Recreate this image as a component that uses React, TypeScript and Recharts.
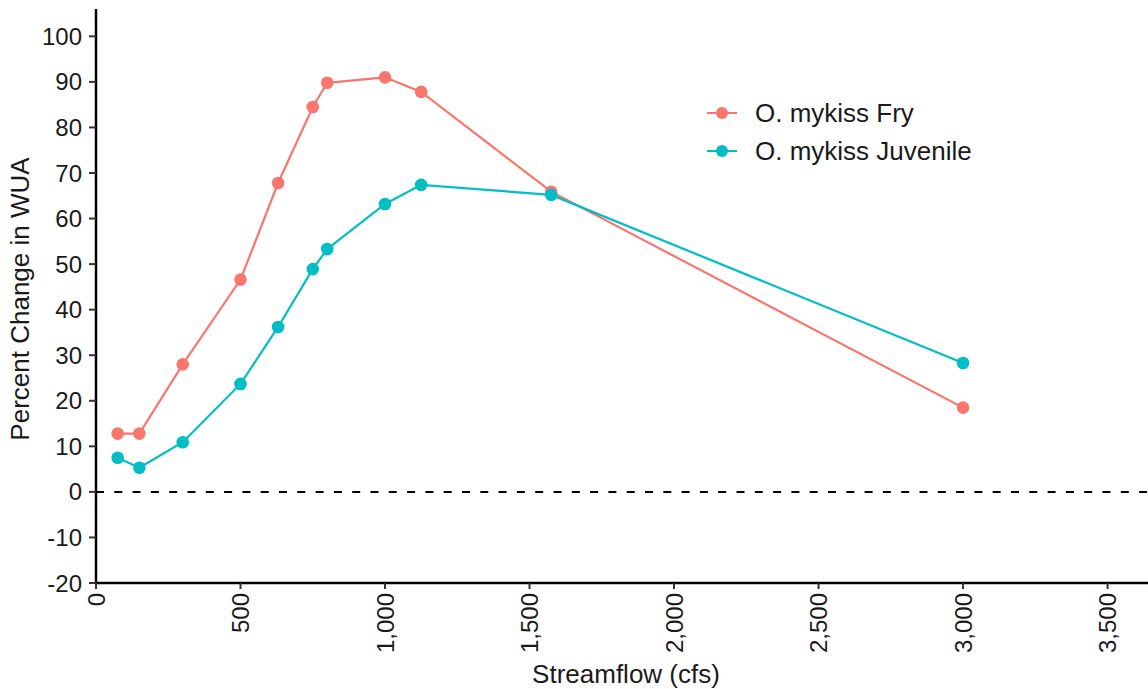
import React from 'react';
import {
  LineChart,
  Line,
  XAxis,
  YAxis,
  ReferenceLine,
  Legend
} from 'recharts';

const flows = [75, 150, 300, 500, 630, 750, 800, 1000, 1125, 1575, 3000];
const fryValues = [12.8, 12.8, 28.0, 46.6, 67.8, 84.5, 89.8, 91.0, 87.8, 65.9, 18.5];
const juvenileValues = [7.5, 5.3, 10.9, 23.7, 36.2, 48.9, 53.3, 63.2, 67.4, 65.2, 28.3];
const xTicks = [0, 500, 1000, 1500, 2000, 2500, 3000, 3500];
const yTicks = [-20, -10, 0, 10, 20, 30, 40, 50, 60, 70, 80, 90, 100];

const FRY = '#F8766D';
const JUV = '#00BFC4';
const FONT = 'Liberation Sans, Arial, sans-serif';
const INK = '#1a1a1a';

const data = flows.map((flow, i) => ({
  flow,
  fry: fryValues[i],
  juvenile: juvenileValues[i]
}));

const fmt = (v: number) => v.toLocaleString('en-US');

// rotated x tick labels, reading bottom-to-top like the ggplot original
const XTick = (props: any) => {
  const { x, y, payload } = props;
  const ty = y + 2;
  return (
    <text
      x={x}
      y={ty}
      transform={`rotate(-90, ${x}, ${ty})`}
      textAnchor="end"
      dominantBaseline="central"
      fontSize={24}
      fontFamily={FONT}
      fill={INK}
    >
      {fmt(payload.value)}
    </text>
  );
};

const YLabel = (props: any) => {
  const { viewBox } = props;
  const cy = viewBox.y + viewBox.height / 2 + 3;
  return (
    <text
      x={20}
      y={cy}
      transform={`rotate(-90, 20, ${cy})`}
      textAnchor="middle"
      dominantBaseline="central"
      fontSize={26}
      fontFamily={FONT}
      fill={INK}
    >
      Percent Change in WUA
    </text>
  );
};

const XLabel = (props: any) => {
  const { viewBox } = props;
  return (
    <text
      x={viewBox.x + viewBox.width / 2 + 4}
      y={683}
      textAnchor="middle"
      fontSize={26}
      fontFamily={FONT}
      fill={INK}
    >
      Streamflow (cfs)
    </text>
  );
};

const LegendBox = () => (
  <div style={{ fontFamily: FONT, fontSize: 26, color: INK }}>
    {[
      { name: 'O. mykiss Fry', color: FRY },
      { name: 'O. mykiss Juvenile', color: JUV }
    ].map((item) => (
      <div key={item.name} style={{ display: 'flex', alignItems: 'center', height: 38 }}>
        <svg width={34} height={14} style={{ marginRight: 16 }}>
          <line x1={2} y1={7} x2={32} y2={7} stroke={item.color} strokeWidth={2} />
          <circle cx={17} cy={7} r={6} fill={item.color} />
        </svg>
        <span>{item.name}</span>
      </div>
    ))}
  </div>
);

export default function App() {
  return (
    <div style={{ position: 'absolute', top: 0, left: 0, width: 1148, height: 689, background: '#fff' }}>
      <LineChart
        width={1148}
        height={689}
        data={data}
        margin={{ top: 9, right: 0, left: 0, bottom: 0 }}
      >
        <XAxis
          type="number"
          dataKey="flow"
          domain={[0, 3640]}
          ticks={xTicks}
          tick={<XTick />}
          tickSize={6}
          tickMargin={2}
          height={106}
          axisLine={{ stroke: '#000', strokeWidth: 2.5 }}
          tickLine={{ stroke: '#333', strokeWidth: 2 }}
          allowDataOverflow
          label={<XLabel />}
        />
        <YAxis
          type="number"
          domain={[-20, 106]}
          ticks={yTicks}
          width={96}
          tickSize={7}
          tickMargin={7}
          allowDataOverflow
          axisLine={{ stroke: '#000', strokeWidth: 2.5 }}
          tickLine={{ stroke: '#333', strokeWidth: 2 }}
          tick={{ fontSize: 24, fontFamily: FONT, fill: INK }}
          label={<YLabel />}
        />
        <ReferenceLine y={0} stroke="#000" strokeWidth={2} strokeDasharray="8 10.3" />
        <Legend
          layout="vertical"
          align="center"
          verticalAlign="middle"
          content={<LegendBox />}
          wrapperStyle={{ position: 'absolute', left: 705, top: 94, width: 320 }}
        />
        <Line
          type="linear"
          dataKey="fry"
          name="O. mykiss Fry"
          stroke={FRY}
          strokeWidth={2.2}
          dot={{ r: 6.3, fill: FRY, stroke: 'none' }}
          activeDot={false}
          isAnimationActive={false}
        />
        <Line
          type="linear"
          dataKey="juvenile"
          name="O. mykiss Juvenile"
          stroke={JUV}
          strokeWidth={2.2}
          dot={{ r: 6.3, fill: JUV, stroke: 'none' }}
          activeDot={false}
          isAnimationActive={false}
        />
      </LineChart>
    </div>
  );
}
